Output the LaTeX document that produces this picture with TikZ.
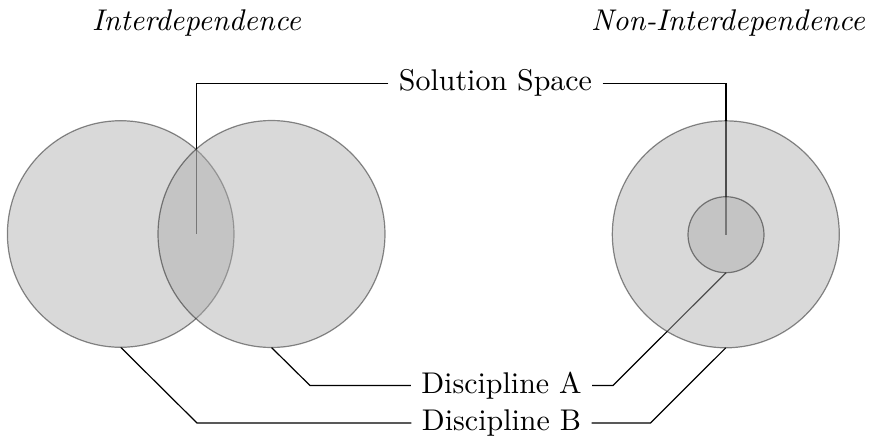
\documentclass[tikz,border=0pt]{standalone}
\begin{document}
\begin{tikzpicture}[x=0.3339pt,y=-0.3339pt,
  disc/.style={circle,fill=black!33,draw=black,opacity=0.45,inner sep=0pt,minimum size=#1},
  lbl/.style={inner sep=3.33pt,font=\normalsize},
  title/.style={font=\itshape},
  lead/.style={draw=black,line width=0.4pt}]
\useasboundingbox (0,0) rectangle (869,438);

% titles
\node[title] (tl) at (196.5,23) {Interdependence};
\node[title] (tr) at (728,23) {Non-Interdependence};

% labels
\node[lbl] (sol) at (495.5,83.3) {Solution Space};
\node[lbl] (da) at (501.5,385.5) {Discipline A};
\node[lbl] (db) at (501.5,423) {Discipline B};

% anchor points of the leaders
\coordinate (ovl) at (196.3,234);
\coordinate (inner) at (726,234.5);
\coordinate (aS) at (120.7,347.3);
\coordinate (bS) at (271.5,347.5);
\coordinate (cS) at (725.8,347.8);
\coordinate (dS) at (726,272.7);

% leaders (drawn beneath the translucent discs)
\draw[lead] (sol.west) -| (ovl);
\draw[lead] (sol.east) -| (inner);
\draw[lead] (da.west) -- (310,385.5) -- (bS);
\draw[lead] (da.east) -- (613,385.5) -- (dS);
\draw[lead] (db.west) -- (197,423) -- (aS);
\draw[lead] (db.east) -- (650.5,423) -- (cS);

% discs
\node[disc=226.6pt*0.3339] (a) at (120.7,234) {};
\node[disc=227pt*0.3339] (b) at (271.5,234) {};
\node[disc=227pt*0.3339] (c) at (725.8,234.3) {};
\node[disc=76pt*0.3339] (d) at (726,234.7) {};
\end{tikzpicture}
\end{document}
